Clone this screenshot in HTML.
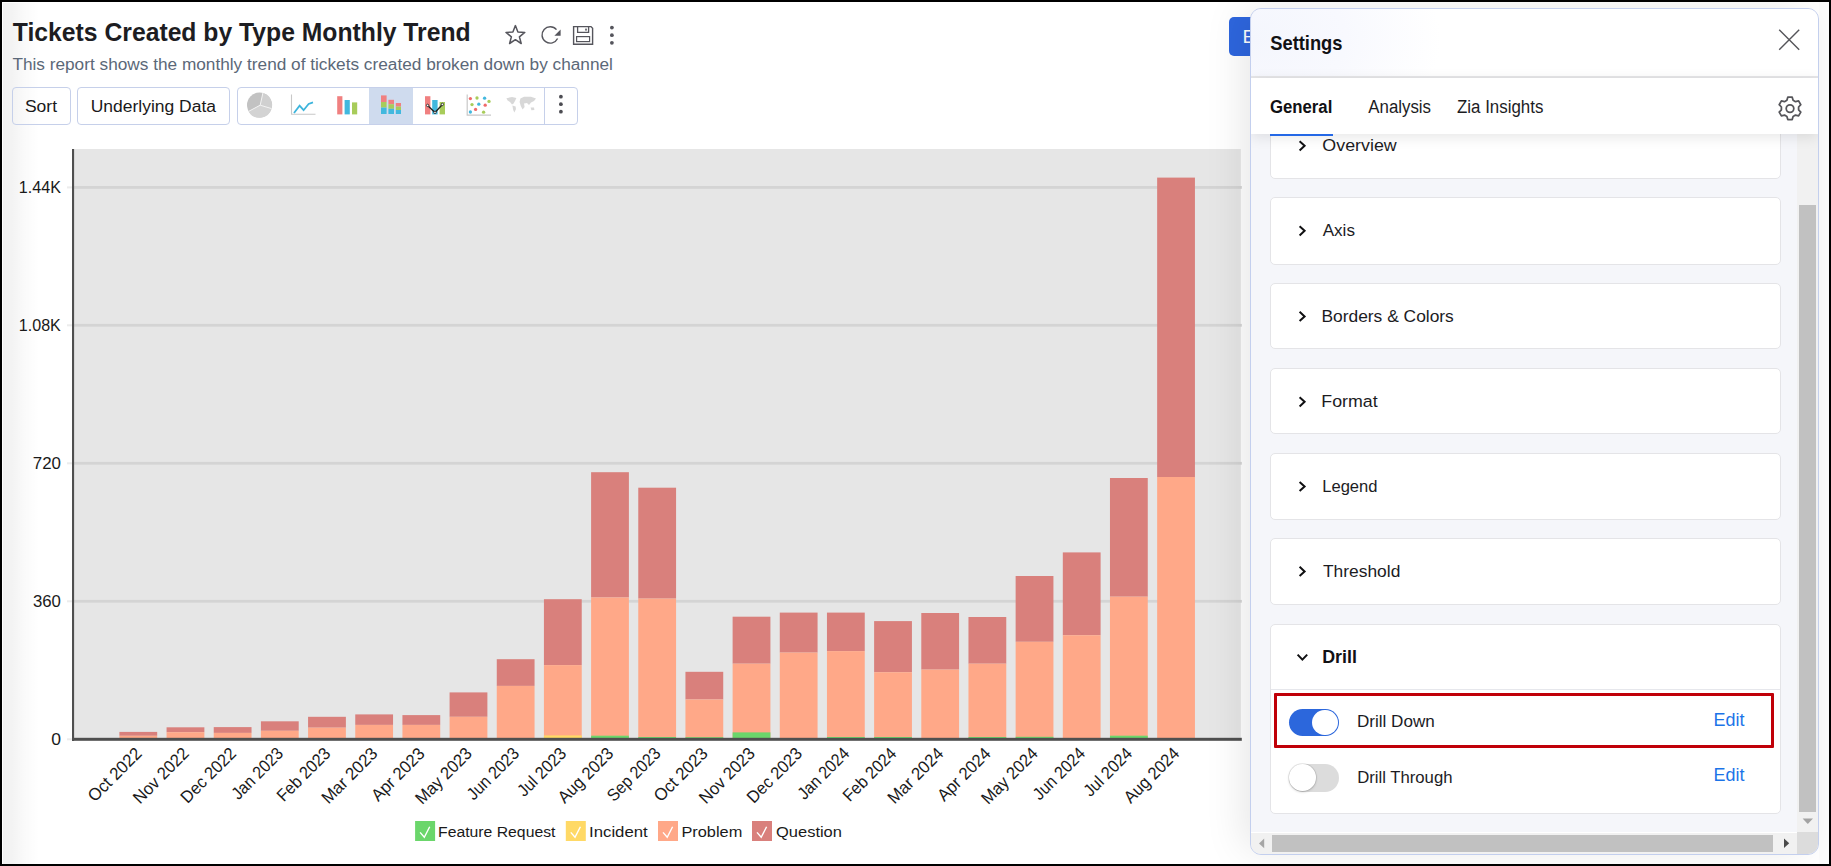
<!DOCTYPE html>
<html lang="en">
<head>
<meta charset="utf-8">
<title>Tickets Created by Type Monthly Trend</title>
<style>
html,body{margin:0;padding:0;}
body{width:1831px;height:866px;overflow:hidden;background:#fff;font-family:"Liberation Sans", sans-serif;position:relative;}
svg text{font-family:"Liberation Sans", sans-serif;}
.abs{position:absolute;}
#frame{position:absolute;left:0;top:0;width:1827px;height:862px;border:2px solid #000;z-index:50;pointer-events:none;}
#leftshade{position:absolute;left:3px;top:3px;width:40px;height:861px;background:linear-gradient(to right,rgba(0,0,0,.055) 0,rgba(0,0,0,.048) 22%,rgba(0,0,0,.018) 55%,rgba(0,0,0,0) 90%);}
.btn{position:absolute;top:87px;height:35.6px;border:1px solid #c6d0ea;border-radius:4px;background:transparent;box-sizing:content-box;}
#panel{position:absolute;left:1250px;top:8px;width:567px;height:845px;border:1px solid #c3cfee;border-radius:11px;background:#f5f6fa;overflow:hidden;
 box-shadow:-10px -2px 40px -4px rgba(0,0,0,.10);}
#phead{position:absolute;left:0;top:0;width:567px;height:66.6px;background:radial-gradient(ellipse 190px 120px at 0% 45%,#f4f6fd 0%,#f8f9fe 50%,#fff 100%);border-bottom:2px solid #e6e6e8;}
#ptabs{position:absolute;left:0;top:68.6px;width:567px;height:56.4px;background:#fff;box-shadow:0 3px 13px rgba(0,0,0,.10);z-index:5;}
.card{position:absolute;left:19px;width:509px;background:#fff;border:1px solid #e4e4e7;border-radius:5px;}
</style>
</head>
<body>
<div id="leftshade"></div>

<!-- toolbar buttons -->
<div class="btn" style="left:12px;width:57px;"></div>
<div class="btn" style="left:77px;width:151px;"></div>
<div class="btn" style="left:237px;width:339px;overflow:hidden;">
  <div class="abs" style="left:131.2px;top:0;width:43.6px;height:36px;background:#cfdbee;"></div>
  <div class="abs" style="left:305.9px;top:0;width:1px;height:36px;background:#c6d0ea;"></div>
</div>

<!-- report text + chart -->
<svg class="abs" style="left:0;top:0" width="1831" height="866" viewBox="0 0 1831 866">
<rect x="74" y="149" width="1166.8" height="589.5" fill="#e6e6e6"/>
<rect x="67" y="186.4" width="7" height="2" fill="#ececec"/>
<rect x="74" y="186.0" width="1167.8" height="2.8" fill="#d4d4d4"/>
<rect x="67" y="324.3" width="7" height="2" fill="#ececec"/>
<rect x="74" y="323.9" width="1167.8" height="2.8" fill="#d4d4d4"/>
<rect x="67" y="462.3" width="7" height="2" fill="#ececec"/>
<rect x="74" y="461.9" width="1167.8" height="2.8" fill="#d4d4d4"/>
<rect x="67" y="600.3" width="7" height="2" fill="#ececec"/>
<rect x="74" y="599.9" width="1167.8" height="2.8" fill="#d4d4d4"/>
<rect x="67" y="738.3" width="7" height="2" fill="#ececec"/>
<rect x="119.40" y="731.9" width="37.8" height="3.9" fill="#d9807c"/>
<rect x="119.40" y="735.8" width="37.8" height="2.2" fill="#ffa888"/>
<rect x="166.57" y="727.3" width="37.8" height="4.9" fill="#d9807c"/>
<rect x="166.57" y="732.2" width="37.8" height="5.8" fill="#ffa888"/>
<rect x="213.74" y="727.1" width="37.8" height="5.8" fill="#d9807c"/>
<rect x="213.74" y="732.9" width="37.8" height="5.1" fill="#ffa888"/>
<rect x="260.91" y="721.3" width="37.8" height="9.5" fill="#d9807c"/>
<rect x="260.91" y="730.8" width="37.8" height="7.2" fill="#ffa888"/>
<rect x="308.08" y="716.8" width="37.8" height="10.9" fill="#d9807c"/>
<rect x="308.08" y="727.7" width="37.8" height="10.3" fill="#ffa888"/>
<rect x="355.25" y="714.4" width="37.8" height="10.5" fill="#d9807c"/>
<rect x="355.25" y="724.9" width="37.8" height="13.1" fill="#ffa888"/>
<rect x="402.42" y="715.1" width="37.8" height="9.8" fill="#d9807c"/>
<rect x="402.42" y="724.9" width="37.8" height="13.1" fill="#ffa888"/>
<rect x="449.59" y="692.4" width="37.8" height="24.4" fill="#d9807c"/>
<rect x="449.59" y="716.8" width="37.8" height="21.2" fill="#ffa888"/>
<rect x="496.76" y="659.2" width="37.8" height="26.7" fill="#d9807c"/>
<rect x="496.76" y="685.9" width="37.8" height="52.1" fill="#ffa888"/>
<rect x="543.93" y="599.2" width="37.8" height="65.9" fill="#d9807c"/>
<rect x="543.93" y="665.1" width="37.8" height="72.9" fill="#ffa888"/>
<rect x="543.93" y="735.4" width="37.8" height="2.6" fill="#ffd966"/>
<rect x="591.10" y="472.2" width="37.8" height="125.3" fill="#d9807c"/>
<rect x="591.10" y="597.5" width="37.8" height="140.5" fill="#ffa888"/>
<rect x="591.10" y="735.7" width="37.8" height="2.3" fill="#6bd66b"/>
<rect x="638.27" y="487.7" width="37.8" height="110.9" fill="#d9807c"/>
<rect x="638.27" y="598.6" width="37.8" height="139.4" fill="#ffa888"/>
<rect x="638.27" y="737.0" width="37.8" height="1.0" fill="#6bd66b"/>
<rect x="685.44" y="671.8" width="37.8" height="27.7" fill="#d9807c"/>
<rect x="685.44" y="699.5" width="37.8" height="38.5" fill="#ffa888"/>
<rect x="685.44" y="737.2" width="37.8" height="0.8" fill="#6bd66b"/>
<rect x="732.61" y="616.7" width="37.8" height="47.0" fill="#d9807c"/>
<rect x="732.61" y="663.7" width="37.8" height="74.3" fill="#ffa888"/>
<rect x="732.61" y="732.4" width="37.8" height="5.6" fill="#6bd66b"/>
<rect x="779.78" y="612.6" width="37.8" height="40.0" fill="#d9807c"/>
<rect x="779.78" y="652.6" width="37.8" height="85.4" fill="#ffa888"/>
<rect x="826.95" y="612.6" width="37.8" height="38.5" fill="#d9807c"/>
<rect x="826.95" y="651.1" width="37.8" height="86.9" fill="#ffa888"/>
<rect x="826.95" y="737.0" width="37.8" height="1.0" fill="#6bd66b"/>
<rect x="874.12" y="621.1" width="37.8" height="51.1" fill="#d9807c"/>
<rect x="874.12" y="672.2" width="37.8" height="65.8" fill="#ffa888"/>
<rect x="874.12" y="737.0" width="37.8" height="1.0" fill="#6bd66b"/>
<rect x="921.29" y="613.0" width="37.8" height="56.6" fill="#d9807c"/>
<rect x="921.29" y="669.6" width="37.8" height="68.4" fill="#ffa888"/>
<rect x="968.46" y="617.0" width="37.8" height="46.7" fill="#d9807c"/>
<rect x="968.46" y="663.7" width="37.8" height="74.3" fill="#ffa888"/>
<rect x="968.46" y="737.0" width="37.8" height="1.0" fill="#6bd66b"/>
<rect x="1015.63" y="576.0" width="37.8" height="65.8" fill="#d9807c"/>
<rect x="1015.63" y="641.8" width="37.8" height="96.2" fill="#ffa888"/>
<rect x="1015.63" y="736.8" width="37.8" height="1.2" fill="#6bd66b"/>
<rect x="1062.80" y="552.4" width="37.8" height="82.8" fill="#d9807c"/>
<rect x="1062.80" y="635.2" width="37.8" height="102.8" fill="#ffa888"/>
<rect x="1109.97" y="478.0" width="37.8" height="118.7" fill="#d9807c"/>
<rect x="1109.97" y="596.7" width="37.8" height="141.3" fill="#ffa888"/>
<rect x="1109.97" y="735.7" width="37.8" height="2.3" fill="#6bd66b"/>
<rect x="1157.14" y="177.6" width="37.8" height="299.4" fill="#d9807c"/>
<rect x="1157.14" y="477.0" width="37.8" height="261.0" fill="#ffa888"/>
<rect x="72" y="149" width="2.1" height="592" fill="#4f4f4f"/>
<rect x="72" y="737.8" width="1169.8" height="3" fill="#4f4f4f"/>
<text x="60.99" y="193.2" font-size="15.8" font-weight="400" fill="#1a1a1a" text-anchor="end" textLength="42.13" lengthAdjust="spacingAndGlyphs">1.44K</text>
<text x="60.88" y="331.1" font-size="15.8" font-weight="400" fill="#1a1a1a" text-anchor="end" textLength="42.07" lengthAdjust="spacingAndGlyphs">1.08K</text>
<text x="61.01" y="469.1" font-size="15.8" font-weight="400" fill="#1a1a1a" text-anchor="end" textLength="28.21" lengthAdjust="spacingAndGlyphs">720</text>
<text x="60.91" y="607.1" font-size="15.8" font-weight="400" fill="#1a1a1a" text-anchor="end" textLength="27.99" lengthAdjust="spacingAndGlyphs">360</text>
<text x="61.01" y="745.1" font-size="15.8" font-weight="400" fill="#1a1a1a" text-anchor="end" textLength="9.76" lengthAdjust="spacingAndGlyphs">0</text>
<g transform="translate(142.8,754.6) rotate(-45)"><text x="0.00" y="0.0" font-size="17.3" font-weight="400" fill="#1a1a1a" text-anchor="end" textLength="68.10" lengthAdjust="spacingAndGlyphs">Oct 2022</text></g>
<g transform="translate(190.0,754.6) rotate(-45)"><text x="0.00" y="0.0" font-size="17.3" font-weight="400" fill="#1a1a1a" text-anchor="end" textLength="70.80" lengthAdjust="spacingAndGlyphs">Nov 2022</text></g>
<g transform="translate(237.1,754.6) rotate(-45)"><text x="0.00" y="0.0" font-size="17.3" font-weight="400" fill="#1a1a1a" text-anchor="end" textLength="70.10" lengthAdjust="spacingAndGlyphs">Dec 2022</text></g>
<g transform="translate(284.3,754.6) rotate(-45)"><text x="0.00" y="0.0" font-size="17.3" font-weight="400" fill="#1a1a1a" text-anchor="end" textLength="64.90" lengthAdjust="spacingAndGlyphs">Jan 2023</text></g>
<g transform="translate(331.5,754.6) rotate(-45)"><text x="0.00" y="0.0" font-size="17.3" font-weight="400" fill="#1a1a1a" text-anchor="end" textLength="67.60" lengthAdjust="spacingAndGlyphs">Feb 2023</text></g>
<g transform="translate(378.6,754.6) rotate(-45)"><text x="0.00" y="0.0" font-size="17.3" font-weight="400" fill="#1a1a1a" text-anchor="end" textLength="71.00" lengthAdjust="spacingAndGlyphs">Mar 2023</text></g>
<g transform="translate(425.8,754.6) rotate(-45)"><text x="0.00" y="0.0" font-size="17.3" font-weight="400" fill="#1a1a1a" text-anchor="end" textLength="67.40" lengthAdjust="spacingAndGlyphs">Apr 2023</text></g>
<g transform="translate(473.0,754.6) rotate(-45)"><text x="0.00" y="0.0" font-size="17.3" font-weight="400" fill="#1a1a1a" text-anchor="end" textLength="71.70" lengthAdjust="spacingAndGlyphs">May 2023</text></g>
<g transform="translate(520.2,754.6) rotate(-45)"><text x="0.00" y="0.0" font-size="17.3" font-weight="400" fill="#1a1a1a" text-anchor="end" textLength="65.60" lengthAdjust="spacingAndGlyphs">Jun 2023</text></g>
<g transform="translate(567.3,754.6) rotate(-45)"><text x="0.00" y="0.0" font-size="17.3" font-weight="400" fill="#1a1a1a" text-anchor="end" textLength="60.80" lengthAdjust="spacingAndGlyphs">Jul 2023</text></g>
<g transform="translate(614.5,754.6) rotate(-45)"><text x="0.00" y="0.0" font-size="17.3" font-weight="400" fill="#1a1a1a" text-anchor="end" textLength="70.30" lengthAdjust="spacingAndGlyphs">Aug 2023</text></g>
<g transform="translate(661.7,754.6) rotate(-45)"><text x="0.00" y="0.0" font-size="17.3" font-weight="400" fill="#1a1a1a" text-anchor="end" textLength="67.60" lengthAdjust="spacingAndGlyphs">Sep 2023</text></g>
<g transform="translate(708.8,754.6) rotate(-45)"><text x="0.00" y="0.0" font-size="17.3" font-weight="400" fill="#1a1a1a" text-anchor="end" textLength="68.10" lengthAdjust="spacingAndGlyphs">Oct 2023</text></g>
<g transform="translate(756.0,754.6) rotate(-45)"><text x="0.00" y="0.0" font-size="17.3" font-weight="400" fill="#1a1a1a" text-anchor="end" textLength="70.80" lengthAdjust="spacingAndGlyphs">Nov 2023</text></g>
<g transform="translate(803.2,754.6) rotate(-45)"><text x="0.00" y="0.0" font-size="17.3" font-weight="400" fill="#1a1a1a" text-anchor="end" textLength="70.10" lengthAdjust="spacingAndGlyphs">Dec 2023</text></g>
<g transform="translate(850.4,754.6) rotate(-45)"><text x="0.00" y="0.0" font-size="17.3" font-weight="400" fill="#1a1a1a" text-anchor="end" textLength="64.90" lengthAdjust="spacingAndGlyphs">Jan 2024</text></g>
<g transform="translate(897.5,754.6) rotate(-45)"><text x="0.00" y="0.0" font-size="17.3" font-weight="400" fill="#1a1a1a" text-anchor="end" textLength="67.60" lengthAdjust="spacingAndGlyphs">Feb 2024</text></g>
<g transform="translate(944.7,754.6) rotate(-45)"><text x="0.00" y="0.0" font-size="17.3" font-weight="400" fill="#1a1a1a" text-anchor="end" textLength="71.00" lengthAdjust="spacingAndGlyphs">Mar 2024</text></g>
<g transform="translate(991.9,754.6) rotate(-45)"><text x="0.00" y="0.0" font-size="17.3" font-weight="400" fill="#1a1a1a" text-anchor="end" textLength="67.40" lengthAdjust="spacingAndGlyphs">Apr 2024</text></g>
<g transform="translate(1039.0,754.6) rotate(-45)"><text x="0.00" y="0.0" font-size="17.3" font-weight="400" fill="#1a1a1a" text-anchor="end" textLength="71.70" lengthAdjust="spacingAndGlyphs">May 2024</text></g>
<g transform="translate(1086.2,754.6) rotate(-45)"><text x="0.00" y="0.0" font-size="17.3" font-weight="400" fill="#1a1a1a" text-anchor="end" textLength="65.60" lengthAdjust="spacingAndGlyphs">Jun 2024</text></g>
<g transform="translate(1133.4,754.6) rotate(-45)"><text x="0.00" y="0.0" font-size="17.3" font-weight="400" fill="#1a1a1a" text-anchor="end" textLength="60.80" lengthAdjust="spacingAndGlyphs">Jul 2024</text></g>
<g transform="translate(1180.5,754.6) rotate(-45)"><text x="0.00" y="0.0" font-size="17.3" font-weight="400" fill="#1a1a1a" text-anchor="end" textLength="70.30" lengthAdjust="spacingAndGlyphs">Aug 2024</text></g>
<rect x="415.1" y="821" width="20" height="20" fill="#6bd66b"/>
<path d="M420.1 832.4 L424.3 837.2 L429.7 826.8" fill="none" stroke="#fff" stroke-width="1.4"/>
<text x="438.02" y="836.7" font-size="15.5" font-weight="400" fill="#1a1a1a" text-anchor="start" textLength="117.43" lengthAdjust="spacingAndGlyphs">Feature Request</text>
<rect x="565.8" y="821" width="20" height="20" fill="#ffd966"/>
<path d="M570.8 832.4 L575.0 837.2 L580.4 826.8" fill="none" stroke="#fff" stroke-width="1.4"/>
<text x="589.02" y="836.7" font-size="15.5" font-weight="400" fill="#1a1a1a" text-anchor="start" textLength="58.74" lengthAdjust="spacingAndGlyphs">Incident</text>
<rect x="658.0" y="821" width="20" height="20" fill="#ffa888"/>
<path d="M663.0 832.4 L667.2 837.2 L672.6 826.8" fill="none" stroke="#fff" stroke-width="1.4"/>
<text x="681.43" y="836.7" font-size="15.5" font-weight="400" fill="#1a1a1a" text-anchor="start" textLength="60.88" lengthAdjust="spacingAndGlyphs">Problem</text>
<rect x="752.0" y="821" width="20" height="20" fill="#d9807c"/>
<path d="M757.0 832.4 L761.2 837.2 L766.6 826.8" fill="none" stroke="#fff" stroke-width="1.4"/>
<text x="776.03" y="836.7" font-size="15.5" font-weight="400" fill="#1a1a1a" text-anchor="start" textLength="65.93" lengthAdjust="spacingAndGlyphs">Question</text>
<text x="12.83" y="41.4" font-size="26.1" font-weight="700" fill="#1d1d22" text-anchor="start" textLength="457.85" lengthAdjust="spacingAndGlyphs">Tickets Created by Type Monthly Trend</text>
<text x="12.38" y="69.9" font-size="17.3" font-weight="400" fill="#5b6878" text-anchor="start" textLength="600.58" lengthAdjust="spacingAndGlyphs">This report shows the monthly trend of tickets created broken down by channel</text>
<text x="24.91" y="111.9" font-size="17.3" font-weight="400" fill="#1a1a1a" text-anchor="start" textLength="32.09" lengthAdjust="spacingAndGlyphs">Sort</text>
<text x="90.70" y="111.9" font-size="17.3" font-weight="400" fill="#1a1a1a" text-anchor="start" textLength="125.33" lengthAdjust="spacingAndGlyphs">Underlying Data</text>
</svg>

<!-- icons -->
<svg class="abs" style="left:0;top:0" width="1831" height="866" viewBox="0 0 1831 866">
 <!-- star -->
 <path d="M515.4 25.6 L517.9 32.1 L524.8 32.4 L519.4 36.8 L521.2 43.5 L515.4 39.7 L509.6 43.5 L511.4 36.8 L506.0 32.4 L512.9 32.1 Z" fill="none" stroke="#55555c" stroke-width="1.5" stroke-linejoin="round"/>
 <!-- refresh -->
 <path d="M557.6 38.5 A8.2 8.2 0 1 1 556.5 29.6" fill="none" stroke="#55555c" stroke-width="1.4"/>
 <path d="M560.6 29.6 L560.6 35.8 L554.4 35.8 Z" fill="#55555c"/>
 <!-- save -->
 <path d="M573.6 26.6 H591 L592.6 28.2 V44.2 H573.6 Z" fill="none" stroke="#55555c" stroke-width="1.4"/>
 <path d="M577.6 26.6 V32.4 H588.6 V26.6" fill="none" stroke="#55555c" stroke-width="1.3"/>
 <rect x="585" y="28.6" width="2" height="2" fill="#77777c"/>
 <rect x="576.6" y="36.6" width="13" height="5" fill="none" stroke="#55555c" stroke-width="1.2"/>
 <!-- kebab -->
 <circle cx="611.9" cy="27.6" r="1.9" fill="#55555c"/><circle cx="611.9" cy="35.2" r="1.9" fill="#55555c"/><circle cx="611.9" cy="42.8" r="1.9" fill="#55555c"/>

 <!-- toolbar: pie -->
 <circle cx="259.5" cy="105" r="12.5" fill="#c2c2c2"/>
 <path d="M260.2 105.2 L262.9 93 A12.5 12.5 0 0 1 271.6 108.6 Z" fill="#d0d0d0"/>
 <path d="M260.2 105.2 L271.6 108.6 A12.5 12.5 0 0 1 248.6 111.4 Z" fill="#d3d3d3"/>
 <path d="M260.2 105.2 L262.9 93 M260.2 105.2 L271.6 108.6 M260.2 105.2 L248.6 111.4" stroke="#f4f4f4" stroke-width="1" fill="none"/>
 <!-- line chart -->
 <path d="M291.5 94.6 V114.2 H315.5" fill="none" stroke="#c8c8c8" stroke-width="1.1"/>
 <path d="M294 113 L299.6 105.6 L303.6 110.2 L308.6 104 L313 102.4" fill="none" stroke="#3cb4dc" stroke-width="1.8"/>
 <!-- bar chart -->
 <rect x="337.2" y="96.2" width="5.2" height="18.2" fill="#f08080"/>
 <rect x="344.6" y="100" width="5.2" height="14.4" fill="#42b8de"/>
 <rect x="352" y="102.4" width="5.2" height="12" fill="#a8cc5a"/>
 <!-- stacked -->
 <rect x="381" y="95.4" width="5.6" height="6.6" fill="#f08080"/><rect x="381" y="102" width="5.6" height="5.6" fill="#a8cc5a"/><rect x="381" y="107.6" width="5.6" height="6.4" fill="#42b8de"/>
 <rect x="388.4" y="99.8" width="5.6" height="4.4" fill="#f08080"/><rect x="388.4" y="104.2" width="5.6" height="4.6" fill="#a8cc5a"/><rect x="388.4" y="108.8" width="5.6" height="5.2" fill="#42b8de"/>
 <rect x="395.8" y="103" width="5.2" height="3.6" fill="#f08080"/><rect x="395.8" y="106.6" width="5.2" height="3.4" fill="#a8cc5a"/><rect x="395.8" y="110" width="5.2" height="4" fill="#42b8de"/>
 <!-- combo -->
 <rect x="425" y="96.2" width="5.4" height="18.2" fill="#f08080"/>
 <rect x="432.2" y="100" width="5.4" height="14.4" fill="#42b8de"/>
 <rect x="439.6" y="102" width="5.4" height="12.4" fill="#a8cc5a"/>
 <path d="M427.6 105.4 L435 112.4 L442.4 104.4" fill="none" stroke="#222" stroke-width="1.4"/>
 <circle cx="427.6" cy="105.4" r="1.2" fill="#fff" stroke="#222" stroke-width=".8"/><circle cx="435" cy="112.4" r="1.2" fill="#fff" stroke="#222" stroke-width=".8"/><circle cx="442.4" cy="104.4" r="1.2" fill="#fff" stroke="#222" stroke-width=".8"/>
 <!-- scatter -->
 <path d="M467.2 94.4 V115.2 H491" fill="none" stroke="#c8c8c8" stroke-width="1.2"/>
 <g>
 <circle cx="470.4" cy="98.6" r="1.65" fill="#f06a6a"/><circle cx="477" cy="98" r="1.65" fill="#a8cc5a"/><circle cx="484.6" cy="98.2" r="1.65" fill="#42b8de"/><circle cx="489" cy="101.4" r="1.65" fill="#a8cc5a"/>
 <circle cx="472" cy="104.6" r="1.65" fill="#a8cc5a"/><circle cx="478.8" cy="104.2" r="1.65" fill="#42b8de"/><circle cx="485.2" cy="105.2" r="1.65" fill="#f06a6a"/>
 <circle cx="470.4" cy="112" r="1.65" fill="#42b8de"/><circle cx="475.6" cy="109.4" r="1.65" fill="#f06a6a"/><circle cx="483.6" cy="112.2" r="1.65" fill="#a8cc5a"/>
 </g>
 <!-- world map (faded) -->
 <defs><pattern id="dots" width="1.5" height="1.5" patternUnits="userSpaceOnUse"><rect width="1.5" height="1.5" fill="#e6e6e6"/><circle cx=".75" cy=".75" r=".55" fill="#c4c4c4"/></pattern></defs>
 <g fill="url(#dots)">
 <path d="M506.4 98.2 L512 97 L516.4 98 L515 101 L513.6 103.4 L512 104.6 L510 102 L507.6 100.4 Z"/>
 <path d="M512.4 105.6 L515.6 106.4 L516 109 L514.4 112.4 L513.2 110 Z"/>
 <path d="M520.4 98.4 L524 96.8 L531 96.8 L536 98.4 L534 101 L531 102.6 L529 105 L527 103 L524 103.6 L524.6 107 L522.6 109.6 L520.8 106 L519.6 102 Z"/>
 <path d="M530.6 107.6 L534 107.4 L534.4 110 L531.4 110.2 Z"/>
 </g>
 <!-- kebab 2 -->
 <circle cx="560.9" cy="96.7" r="1.9" fill="#4c4c52"/><circle cx="560.9" cy="104.2" r="1.9" fill="#4c4c52"/><circle cx="560.9" cy="111.7" r="1.9" fill="#4c4c52"/>
</svg>

<!-- blue button behind panel -->
<div class="abs" style="left:1229px;top:17px;width:40px;height:39px;background:#2e66de;border-radius:5px;">
  <svg class="abs" style="left:0;top:0" width="40" height="39"><text x="13.4" y="26" font-size="17.5" fill="#fff" textLength="64" lengthAdjust="spacingAndGlyphs">Edit De</text></svg>
</div>

<!-- area outside panel (right / top) -->
<div class="abs" style="left:1819px;top:2px;width:10px;height:862px;background:#fcfcfc;"></div>

<!-- settings panel -->
<div id="panel">
  <div id="phead"></div>
  <div id="ptabs">
    <div class="abs" style="left:19px;top:56.1px;width:63px;height:2.2px;background:#2468e6;"></div>
  </div>
  <!-- cards -->
  <div class="card" style="top:100px;height:67.8px;"></div>
  <div class="card" style="top:188.4px;height:65.4px;"></div>
  <div class="card" style="top:274px;height:64px;"></div>
  <div class="card" style="top:359.4px;height:64px;"></div>
  <div class="card" style="top:443.8px;height:65.6px;"></div>
  <div class="card" style="top:529px;height:64.6px;"></div>
  <div class="card" style="top:615.4px;height:188px;">
     <div class="abs" style="left:0;top:63.8px;width:509px;height:1px;background:#e6e7ec;"></div>
  </div>
  <!-- red highlight -->
  <div class="abs" style="left:22.5px;top:683.6px;width:494.8px;height:49.8px;border:3px solid #c00008;border-radius:1px;box-sizing:content-box;"></div>
  <!-- toggles -->
  <div class="abs" style="left:38px;top:700px;width:50px;height:27.4px;border-radius:14px;background:#2c67dc;"></div>
  <div class="abs" style="left:61.4px;top:701px;width:25.4px;height:25.4px;border-radius:50%;background:#fff;"></div>
  <div class="abs" style="left:38px;top:755.4px;width:50px;height:27.4px;border-radius:14px;background:#dcdcdc;"></div>
  <div class="abs" style="left:38.2px;top:755.4px;width:26.6px;height:26.6px;border-radius:50%;background:#fff;box-shadow:0 0 0 .7px rgba(0,0,0,.10),0 1px 2.5px rgba(0,0,0,.20);"></div>

  <!-- vertical scrollbar -->
  <div class="abs" style="left:545.5px;top:125px;width:22px;height:700px;background:#f1f1f1;"></div>
  <div class="abs" style="left:548.2px;top:195.7px;width:16.6px;height:607.2px;background:#c1c1c1;"></div>
  <!-- horizontal scrollbar -->
  <div class="abs" style="left:0;top:822.8px;width:545.5px;height:23px;background:#f1f1f1;border-top:1px solid #fff;"></div>
  <div class="abs" style="left:21px;top:826px;width:501.4px;height:16.8px;background:#c1c1c1;"></div>
  <div class="abs" style="left:545.5px;top:823.4px;width:22px;height:23px;background:#dcdcdc;"></div>
</div>

<!-- settings text & icons overlay -->
<svg class="abs" style="left:0;top:0;z-index:10" width="1831" height="866" viewBox="0 0 1831 866">
<text x="1270.25" y="49.7" font-size="20.5" font-weight="700" fill="#111114" text-anchor="start" textLength="72.25" lengthAdjust="spacingAndGlyphs">Settings</text>
<text x="1269.93" y="112.5" font-size="18" font-weight="700" fill="#111114" text-anchor="start" textLength="62.37" lengthAdjust="spacingAndGlyphs">General</text>
<text x="1368.31" y="112.5" font-size="18" font-weight="400" fill="#1c1c1f" text-anchor="start" textLength="62.71" lengthAdjust="spacingAndGlyphs">Analysis</text>
<text x="1457.00" y="112.5" font-size="18" font-weight="400" fill="#1c1c1f" text-anchor="start" textLength="86.39" lengthAdjust="spacingAndGlyphs">Zia Insights</text>
 <!-- close -->
 <path d="M1779.2 29.8 L1799.2 49.8 M1799.2 29.8 L1779.2 49.8" stroke="#55555a" stroke-width="1.4" fill="none"/>
 <!-- gear -->
 <g transform="translate(1790,108.6)" fill="none" stroke="#55555a" stroke-width="1.75" stroke-linejoin="round">
  <circle r="3.8"/>
  <path d="M-2.2 -11.4 h4.4 l.9 3.1 l2.4 1.4 l3.1 -.8 l2.2 3.8 l-2.2 2.3 v2.8 l2.2 2.3 l-2.2 3.8 l-3.1 -.8 l-2.4 1.4 l-.9 3.1 h-4.4 l-.9 -3.1 l-2.4 -1.4 l-3.1 .8 l-2.2 -3.8 l2.2 -2.3 v-2.8 l-2.2 -2.3 l2.2 -3.8 l3.1 .8 l2.4 -1.4 z"/>
 </g>
<text x="1322.36" y="151.0" font-size="17.2" font-weight="400" fill="#1c1c1f" text-anchor="start" textLength="74.40" lengthAdjust="spacingAndGlyphs">Overview</text>
<path d="M1299.6 141.2 L1304.6 145.8 L1299.6 150.4" fill="none" stroke="#101012" stroke-width="2"/>
<text x="1322.68" y="236.0" font-size="17.2" font-weight="400" fill="#1c1c1f" text-anchor="start" textLength="32.31" lengthAdjust="spacingAndGlyphs">Axis</text>
<path d="M1299.6 226.2 L1304.6 230.8 L1299.6 235.4" fill="none" stroke="#101012" stroke-width="2"/>
<text x="1321.43" y="321.6" font-size="17.2" font-weight="400" fill="#1c1c1f" text-anchor="start" textLength="132.41" lengthAdjust="spacingAndGlyphs">Borders &amp; Colors</text>
<path d="M1299.6 311.8 L1304.6 316.4 L1299.6 321.0" fill="none" stroke="#101012" stroke-width="2"/>
<text x="1321.32" y="407.0" font-size="17.2" font-weight="400" fill="#1c1c1f" text-anchor="start" textLength="56.34" lengthAdjust="spacingAndGlyphs">Format</text>
<path d="M1299.6 397.2 L1304.6 401.8 L1299.6 406.4" fill="none" stroke="#101012" stroke-width="2"/>
<text x="1322.21" y="491.7" font-size="17.2" font-weight="400" fill="#1c1c1f" text-anchor="start" textLength="55.29" lengthAdjust="spacingAndGlyphs">Legend</text>
<path d="M1299.6 481.9 L1304.6 486.5 L1299.6 491.1" fill="none" stroke="#101012" stroke-width="2"/>
<text x="1322.99" y="576.6" font-size="17.2" font-weight="400" fill="#1c1c1f" text-anchor="start" textLength="77.33" lengthAdjust="spacingAndGlyphs">Threshold</text>
<path d="M1299.6 566.8 L1304.6 571.4 L1299.6 576.0" fill="none" stroke="#101012" stroke-width="2"/>
<text x="1322.21" y="662.9" font-size="18" font-weight="700" fill="#111114" text-anchor="start" textLength="34.72" lengthAdjust="spacingAndGlyphs">Drill</text>
<path d="M1297.6 654.6 L1302.4 659.6 L1307.2 654.6" fill="none" stroke="#101012" stroke-width="2"/>
<text x="1356.97" y="726.5" font-size="16" font-weight="400" fill="#1c1c1f" text-anchor="start" textLength="77.80" lengthAdjust="spacingAndGlyphs">Drill Down</text>
<text x="1357.16" y="782.5" font-size="16" font-weight="400" fill="#1c1c1f" text-anchor="start" textLength="95.32" lengthAdjust="spacingAndGlyphs">Drill Through</text>
<text x="1713.62" y="725.9" font-size="18" font-weight="400" fill="#1c74e8" text-anchor="start" textLength="30.91" lengthAdjust="spacingAndGlyphs">Edit</text>
<text x="1713.62" y="780.8" font-size="18" font-weight="400" fill="#1c74e8" text-anchor="start" textLength="30.91" lengthAdjust="spacingAndGlyphs">Edit</text>
<path d="M1802.6 818.6 h10.4 l-5.2 5.4 z" fill="#a3a3a3"/>
<path d="M1264.2 838.6 v9.6 l-5.2 -4.8 z" fill="#a6a6a6"/>
<path d="M1784 838.4 v9.6 l5.2 -4.8 z" fill="#4a4a4a"/>
</svg>
<div id="frame"></div>
</body>
</html>
